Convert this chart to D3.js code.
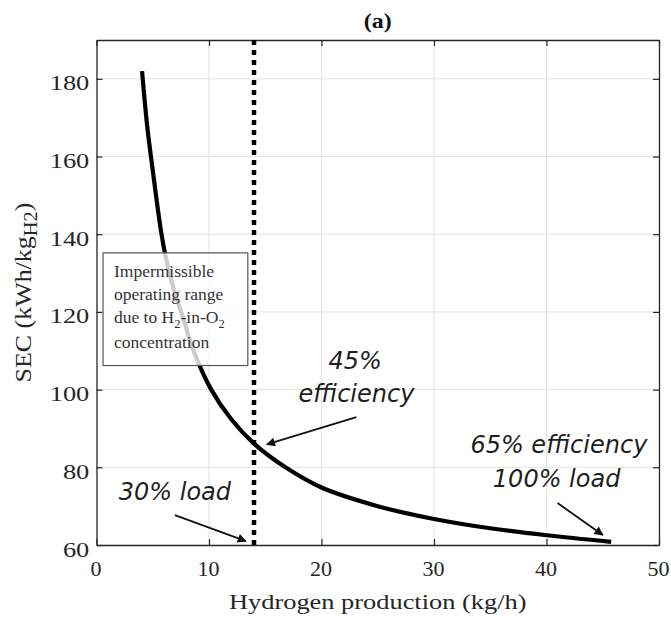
<!DOCTYPE html>
<html>
<head>
<meta charset="utf-8">
<script src="https://cdn.jsdelivr.net/npm/d3@7"></script>
<style>
body { margin: 0; background: #fff; }
.serif { font-family: "Liberation Serif", "Times New Roman", serif; }
.note { font-family: "DejaVu Sans", sans-serif; font-style: italic; fill: #1f1f1f; }
</style>
</head>
<body>
<div id="chart"></div>
<script>
// values
var production = [4.05, 4.5, 4.93, 5.75, 6.2, 7, 7.7, 8.5, 10.2, 12, 14, 16.9, 20, 25, 30, 35, 40, 45.75];
var sec = [182, 168, 158, 140.5, 133.5, 124.5, 118.5, 111, 100, 92.3, 86.1, 79.8, 74.8, 70, 66.7, 64.3, 62.5, 60.8];
var xTicks = [0, 10, 20, 30, 40, 50];
var yTicks = [60, 80, 100, 120, 140, 160, 180];
var limitX = 14;

var boxLines = ["Impermissible", "operating range", "due to H|2|-in-O|2", "concentration"];

var width = 671,
	height = 618;
var plotL = 96.5,
	plotR = 659,
	plotT = 40,
	plotB = 545;

var x = d3.scaleLinear().domain([0, 50]).range([plotL, plotR]);
var y = d3.scaleLinear().domain([60, 190]).range([plotB, plotT]);

var svg = d3.select("#chart").append("svg")
	.attr("width", width)
	.attr("height", height);

var defs = svg.append("defs");
defs.append("marker")
	.attr("id", "head")
	.attr("viewBox", "0 0 10 10")
	.attr("refX", 9)
	.attr("refY", 5)
	.attr("markerWidth", 6)
	.attr("markerHeight", 5)
	.attr("markerUnits", "strokeWidth")
	.attr("orient", "auto")
	.append("path")
	.attr("d", "M0,0 L10,5 L0,10 z")
	.attr("fill", "#111");

// grid
svg.append("g").selectAll("line").data(xTicks.slice(1, -1)).enter().append("line")
	.attr("x1", function(d) { return x(d); })
	.attr("x2", function(d) { return x(d); })
	.attr("y1", plotT).attr("y2", plotB)
	.attr("stroke", "#e3e3e3").attr("stroke-width", 1);
svg.append("g").selectAll("line").data(yTicks.slice(1)).enter().append("line")
	.attr("y1", function(d) { return y(d); })
	.attr("y2", function(d) { return y(d); })
	.attr("x1", plotL).attr("x2", plotR)
	.attr("stroke", "#e3e3e3").attr("stroke-width", 1);

// axes with inward ticks, MATLAB style
function styleAxis(g) {
	g.select(".domain").attr("stroke", "#262626").attr("stroke-width", 1.3);
	g.selectAll(".tick line").attr("stroke", "#262626").attr("stroke-width", 1.2);
	g.selectAll("text").attr("class", "serif").attr("fill", "#262626").attr("font-size", 22);
}

svg.append("g")
	.attr("transform", "translate(0," + plotB + ")")
	.call(d3.axisBottom(x).tickValues(xTicks).tickSizeInner(-6).tickSizeOuter(0).tickPadding(15))
	.call(styleAxis)
	.selectAll("text").attr("dx", -1);

svg.append("g")
	.attr("transform", "translate(0," + plotT + ")")
	.call(d3.axisTop(x).tickValues(xTicks).tickSizeInner(-6).tickSizeOuter(0).tickFormat(""))
	.call(styleAxis);

var yAxis = svg.append("g")
	.attr("transform", "translate(" + plotL + ",0)")
	.call(d3.axisLeft(y).tickValues(yTicks).tickSizeInner(-6).tickSizeOuter(0).tickPadding(6))
	.call(styleAxis);
yAxis.selectAll("text").attr("transform", "translate(0,4) scale(1.2,1)");

svg.append("g")
	.attr("transform", "translate(" + plotR + ",0)")
	.call(d3.axisRight(y).tickValues(yTicks).tickSizeInner(-6).tickSizeOuter(0).tickFormat(""))
	.call(styleAxis);

// curve
var line = d3.line()
	.x(function(d, i) { return x(production[i]); })
	.y(function(d, i) { return y(sec[i]); })
	.curve(d3.curveCatmullRom.alpha(0.5));

svg.append("path")
	.datum(sec)
	.attr("d", line)
	.attr("fill", "none")
	.attr("stroke", "#000")
	.attr("stroke-width", 4.2);

// dotted limit line
svg.append("line")
	.attr("x1", x(limitX)).attr("x2", x(limitX))
	.attr("y1", plotT).attr("y2", plotB)
	.attr("stroke", "#000")
	.attr("stroke-width", 4.5)
	.attr("stroke-dasharray", "5,5");

// annotation box
var box = svg.append("g");
box.append("rect")
	.attr("x", x(0.58)).attr("y", y(135.2))
	.attr("width", x(13.45) - x(0.58))
	.attr("height", y(106.2) - y(135.2))
	.attr("fill", "#fff").attr("fill-opacity", 0.8)
	.attr("stroke", "#555").attr("stroke-width", 1.2);

var boxBase = [129.0, 123.1, 117.2, 110.6];
boxLines.forEach(function(s, i) {
	var t = box.append("text")
		.attr("class", "serif")
		.attr("x", x(1.55))
		.attr("y", y(boxBase[i]))
		.attr("font-size", 17.5)
		.attr("fill", "#333");
	s.split("|").forEach(function(part, j) {
		var ts = t.append("tspan").text(part);
		if (j % 2 == 1) ts.attr("font-size", 12.5).attr("dy", 5);
		else if (j > 0) ts.attr("dy", -5);
	});
});

// notes
var notes = [
	{ text: "45%", x: 23.0, y: 105.4, anchor: "middle" },
	{ text: "efficiency", x: 23.1, y: 96.8, anchor: "middle" },
	{ text: "30% load", x: 6.97, y: 71.5, anchor: "middle" },
	{ text: "65% efficiency", x: 41.1, y: 83.6, anchor: "middle" },
	{ text: "100% load", x: 40.9, y: 75.0, anchor: "middle" }
];
svg.append("g").selectAll("text").data(notes).enter().append("text")
	.attr("class", "note")
	.attr("x", function(d) { return x(d.x); })
	.attr("y", function(d) { return y(d.y); })
	.attr("text-anchor", function(d) { return d.anchor; })
	.attr("font-size", 24)
	.text(function(d) { return d.text; });

var arrows = [
	{ x1: 23.1, y1: 92.9, x2: 15.14, y2: 85.9 },
	{ x1: 6.97, y1: 67.7, x2: 13.28, y2: 61.0 },
	{ x1: 40.98, y1: 70.8, x2: 45.0, y2: 62.6 }
];
svg.append("g").selectAll("line").data(arrows).enter().append("line")
	.attr("x1", function(d) { return x(d.x1); })
	.attr("y1", function(d) { return y(d.y1); })
	.attr("x2", function(d) { return x(d.x2); })
	.attr("y2", function(d) { return y(d.y2); })
	.attr("stroke", "#111")
	.attr("stroke-width", 1.8)
	.attr("marker-end", "url(#head)");

// titles
svg.append("text")
	.attr("class", "serif")
	.attr("transform", "translate(" + (plotL + plotR) / 2 + ",28) scale(1.2,1)")
	.attr("text-anchor", "middle")
	.attr("font-weight", "bold")
	.attr("font-size", 20)
	.attr("fill", "#111")
	.text("(a)");

svg.append("text")
	.attr("class", "serif")
	.attr("transform", "translate(" + (plotL + plotR) / 2 + ",609) scale(1.2,1)")
	.attr("text-anchor", "middle")
	.attr("font-size", 22)
	.attr("fill", "#262626")
	.text("Hydrogen production (kg/h)");

var yl = svg.append("text")
	.attr("class", "serif")
	.attr("transform", "translate(31," + (plotT + plotB) / 2 + ") rotate(-90) scale(1.08,1)")
	.attr("text-anchor", "middle")
	.attr("font-size", 24)
	.attr("fill", "#262626");
yl.append("tspan").text("SEC (kWh/kg");
yl.append("tspan").attr("font-size", 19).attr("dy", 6).text("H2");
yl.append("tspan").attr("dy", -6).text(")");
</script>
</body>
</html>
